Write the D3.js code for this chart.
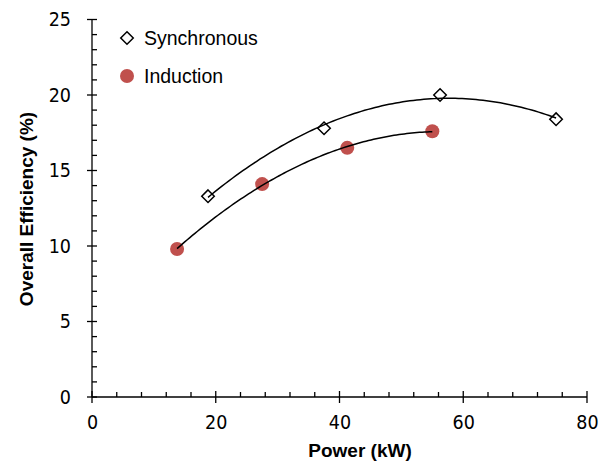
<!DOCTYPE html>
<html>
<head>
<meta charset="utf-8">
<script src="https://cdn.jsdelivr.net/npm/d3@7"></script>
<style>
  body { margin: 0; background: #fff; }
  .tick text { font-family: "DejaVu Sans Condensed", "DejaVu Sans", sans-serif; font-size: 19.5px; fill: #000; }
  .axis path, .axis line { stroke: #000; stroke-width: 1.3px; }
  .title { font-family: "Liberation Sans", Arial, sans-serif; font-weight: bold; font-size: 19px; }
  .legend { font-family: "Liberation Sans", Arial, sans-serif; font-size: 19.5px; }
</style>
</head>
<body>
<div id="chart"></div>
<script>
// data
const syncPower = [18.75, 37.5, 56.25, 75];
const syncEff   = [13.3, 17.8, 20.0, 18.4];
const indPower  = [13.75, 27.5, 41.25, 55];
const indEff    = [9.8, 14.1, 16.5, 17.6];
const xTicks = [0, 20, 40, 60, 80];
const yTicks = [0, 5, 10, 15, 20, 25];

const width = 608, height = 463;
const margin = {top: 19.5, right: 21, bottom: 66, left: 92};

const svg = d3.select("#chart")
  .append("svg")
    .attr("width", width)
    .attr("height", height);

const x = d3.scaleLinear().domain([0, 80]).range([margin.left, width - margin.right]);
const y = d3.scaleLinear().domain([0, 25]).range([height - margin.bottom, margin.top]);

// least squares 2nd order polynomial (like the excel trendline)
function polyFit(xs, ys) {
  let s = [0, 0, 0, 0, 0], t = [0, 0, 0];
  xs.forEach((xv, i) => {
    for (let k = 0; k < 5; k++) s[k] += Math.pow(xv, k);
    for (let k = 0; k < 3; k++) t[k] += ys[i] * Math.pow(xv, k);
  });
  // solve 3x3 normal equations
  const A = [[s[0], s[1], s[2], t[0]], [s[1], s[2], s[3], t[1]], [s[2], s[3], s[4], t[2]]];
  for (let i = 0; i < 3; i++) {
    for (let j = i + 1; j < 3; j++) {
      const f = A[j][i] / A[i][i];
      for (let k = i; k < 4; k++) A[j][k] -= f * A[i][k];
    }
  }
  const c = [0, 0, 0];
  for (let i = 2; i >= 0; i--) {
    let v = A[i][3];
    for (let k = i + 1; k < 3; k++) v -= A[i][k] * c[k];
    c[i] = v / A[i][i];
  }
  return xv => c[0] + c[1] * xv + c[2] * xv * xv;
}

// axes
const xAxis = svg.append("g")
  .attr("class", "axis")
  .attr("transform", `translate(0,${y(0)})`)
  .call(d3.axisBottom(x).tickValues(xTicks).tickSize(0).tickPadding(18));
xAxis.select(".domain").attr("d", `M${x(0)},0H${x(80)}`);

svg.append("g")
  .attr("class", "axis")
  .selectAll("line")
  .data(d3.range(0, 81, 4))
  .join("line")
    .attr("x1", d => x(d)).attr("x2", d => x(d))
    .attr("y1", d => d % 20 === 0 ? y(0) - 6 : y(0) - 5)
    .attr("y2", d => d % 20 === 0 ? y(0) + 6 : y(0));

const yAxis = svg.append("g")
  .attr("class", "axis")
  .attr("transform", `translate(${x(0)},0)`)
  .call(d3.axisLeft(y).tickValues(yTicks).tickSize(0).tickPadding(21));
yAxis.select(".domain").attr("d", `M0,${y(0)}V${y(25)}`);

svg.append("g")
  .attr("class", "axis")
  .selectAll("line")
  .data(d3.range(0, 26, 1))
  .join("line")
    .attr("x1", d => d % 5 === 0 ? x(0) - 5 : x(0))
    .attr("x2", d => x(0) + 5)
    .attr("y1", d => y(d)).attr("y2", d => y(d));

xAxis.selectAll(".tick text").attr("dy", "0.71em");

// axis titles
svg.append("text")
  .attr("class", "title")
  .attr("x", 360)
  .attr("y", 457)
  .attr("text-anchor", "middle")
  .text("Power (kW)");

svg.append("text")
  .attr("class", "title")
  .attr("transform", `translate(33,${209}) rotate(-90)`)
  .attr("text-anchor", "middle")
  .text("Overall Efficiency (%)");

// markers
const diamond = d3.symbol().type(d3.symbolDiamond2).size(100);

svg.append("g")
  .selectAll("path")
  .data(syncPower)
  .join("path")
    .attr("d", diamond)
    .attr("transform", (d, i) => `translate(${x(d)},${y(syncEff[i])})`)
    .style("fill", "#fff")
    .style("stroke", "#000")
    .style("stroke-width", 1.5);

svg.append("g")
  .selectAll("circle")
  .data(indPower)
  .join("circle")
    .attr("cx", d => x(d))
    .attr("cy", (d, i) => y(indEff[i]))
    .attr("r", 7)
    .style("fill", "#c0504d");

// trendlines, drawn over the markers
const trendline = d3.line()
  .x(d => x(d[0]))
  .y(d => y(d[1]));

[[syncPower, syncEff], [indPower, indEff]].forEach(function(s) {
  const f = polyFit(s[0], s[1]);
  const lo = d3.min(s[0]), hi = d3.max(s[0]);
  const pts = d3.range(0, 101).map(k => {
    const xv = lo + (hi - lo) * k / 100;
    return [xv, f(xv)];
  });
  svg.append("path")
    .datum(pts)
    .attr("d", trendline)
    .style("fill", "none")
    .style("stroke", "#000")
    .style("stroke-width", 1.5);
});

// legend
svg.append("path")
  .attr("d", diamond)
  .attr("transform", "translate(127,38)")
  .style("fill", "#fff")
  .style("stroke", "#000")
  .style("stroke-width", 1.5);
svg.append("text")
  .attr("class", "legend")
  .attr("x", 144).attr("y", 44.5)
  .text("Synchronous");

svg.append("circle")
  .attr("cx", 127).attr("cy", 76)
  .attr("r", 7)
  .style("fill", "#c0504d");
svg.append("text")
  .attr("class", "legend")
  .attr("x", 144).attr("y", 82.5)
  .text("Induction");
</script>
</body>
</html>
